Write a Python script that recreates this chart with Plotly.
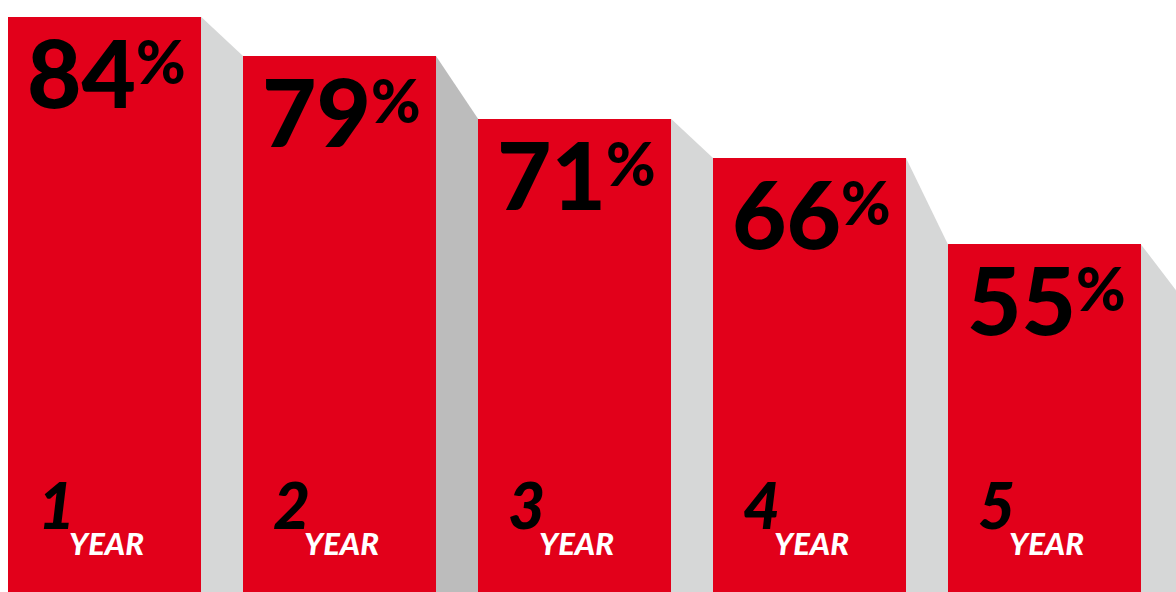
import plotly.graph_objects as go

# ---- data ----
years = ["1", "2", "3", "4", "5"]
year_word = "YEAR"
values = [84, 79, 71, 66, 55]

# ---- style ----
RED = "#e2001a"
SHADOW_LIGHT = "#d6d7d7"
SHADOW_DARK = "#bcbcbc"
shadow_colors = [SHADOW_LIGHT, SHADOW_DARK, SHADOW_LIGHT, SHADOW_LIGHT, SHADOW_LIGHT]
BAR_W = 193 / 235
HW = BAR_W / 2
TAIL_DROP = 7
FONT = "Lato"

x = list(range(len(values)))

fig = go.Figure()

# grey "depth" shadows joining the bars
for i, v in enumerate(values):
    x0 = i + HW
    x1 = i + 1 - HW
    v_next = values[i + 1] if i + 1 < len(values) else v - TAIL_DROP
    fig.add_trace(go.Scatter(
        x=[x0, x1, x1, x0, x0],
        y=[v, v_next, 0, 0, v],
        fill="toself", fillcolor=shadow_colors[i],
        line=dict(width=0), mode="lines", hoverinfo="skip", showlegend=False,
    ))

fig.add_trace(go.Bar(
    x=x, y=values, width=BAR_W, marker=dict(color=RED, line=dict(width=0)),
    hoverinfo="skip", showlegend=False,
))

annotations = []
for i, v in enumerate(values):
    annotations.append(dict(
        x=i, y=v, xref="x", yref="y", text=f"{v}",
        xanchor="right", yanchor="top", xshift=33, yshift=4,
        showarrow=False, font=dict(family=FONT, size=94, color="#000000", weight=900),
    ))
    annotations.append(dict(
        x=i, y=v, xref="x", yref="y", text="%",
        xanchor="left", yanchor="top", xshift=29, yshift=-6,
        showarrow=False, font=dict(family=FONT, size=60, color="#000000", weight=900),
    ))
    annotations.append(dict(
        x=i - HW, y=1 - 545 / 592, xref="x", yref="paper", text=f"<i>{years[i]}</i>",
        xanchor="left", yanchor="bottom", xshift=28,
        showarrow=False, font=dict(family=FONT, size=64, color="#000000", weight=900),
    ))
    annotations.append(dict(
        x=i - HW, y=1 - 564 / 592, xref="x", yref="paper", text=f"<i>{year_word}</i>",
        xanchor="left", yanchor="bottom", xshift=59,
        showarrow=False, font=dict(family=FONT, size=31, color="#ffffff", weight=900),
    ))

fig.update_layout(
    width=1176, height=592,
    margin=dict(l=0, r=0, t=0, b=0),
    paper_bgcolor="white", plot_bgcolor="white",
    xaxis=dict(range=[-0.4447, 4.5596], visible=False, fixedrange=True),
    yaxis=dict(range=[10.69, 86.15], visible=False, fixedrange=True),
    annotations=annotations,
    bargap=0,
)

fig.write_html("out.html", post_script="document.body.style.margin='0';",
               config={"displayModeBar": False})
